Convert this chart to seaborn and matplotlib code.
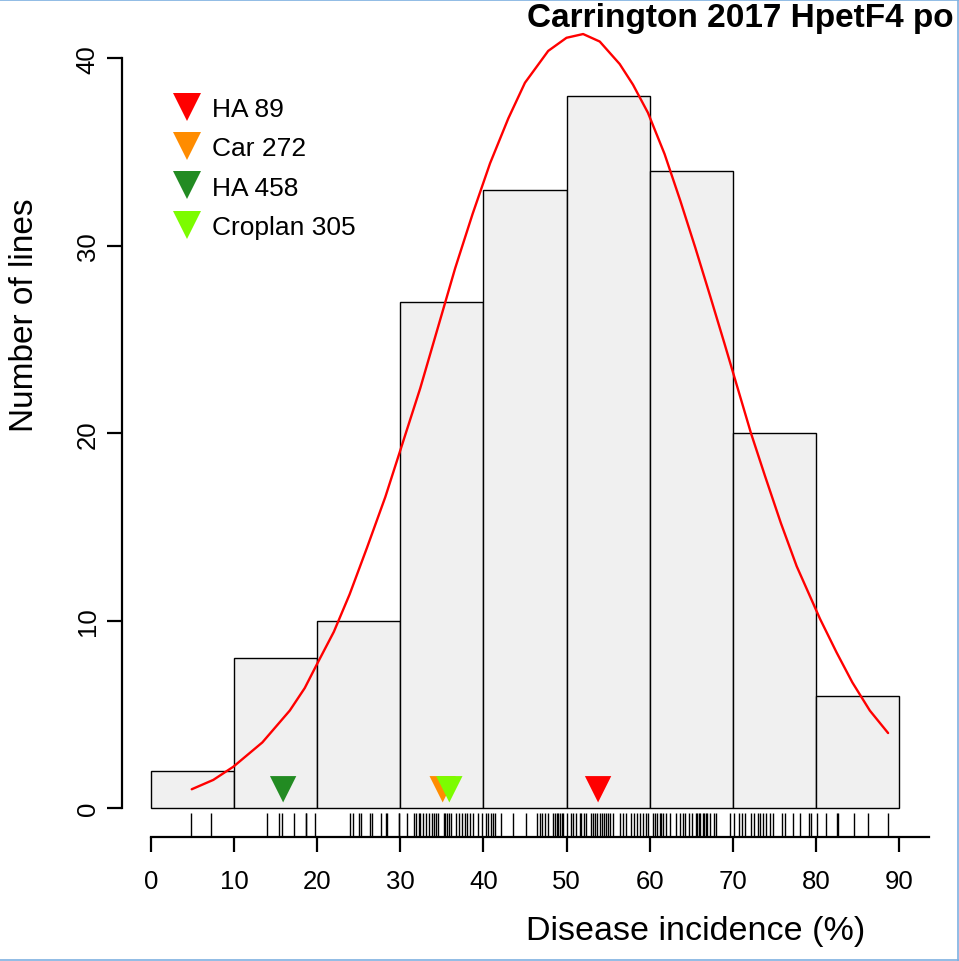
import matplotlib
matplotlib.use("Agg")
import matplotlib.pyplot as plt
from matplotlib.lines import Line2D
import seaborn as sns
import numpy as np
import pandas as pd

# ---------------- data ----------------
bin_edges = [0, 10, 20, 30, 40, 50, 60, 70, 80, 90]
bin_counts = [2, 8, 10, 27, 33, 38, 34, 20, 6]

curve_x = [4.9, 7.5, 9.9, 13.4, 16.7, 18.5, 20.0, 22.0, 23.9, 26.0, 28.2, 30.3, 32.4,
           34.5, 36.6, 38.7, 40.8, 43.0, 45.0, 47.8, 50.0, 52.0, 54.0, 56.4, 58.0,
           59.8, 61.8, 63.7, 65.5, 67.3, 69.0, 70.6, 72.2, 73.9, 75.8, 77.7, 80.5,
           82.5, 84.4, 86.5, 88.7]
curve_y = [1.0, 1.5, 2.2, 3.5, 5.2, 6.4, 7.7, 9.4, 11.4, 13.9, 16.6, 19.5, 22.4,
           25.6, 28.8, 31.7, 34.4, 36.8, 38.7, 40.4, 41.1, 41.3, 40.9, 39.7, 38.6,
           37.1, 34.9, 32.4, 29.9, 27.3, 24.8, 22.4, 20.0, 17.7, 15.2, 12.9, 10.1,
           8.3, 6.7, 5.2, 4.0]

rug_x = [4.8, 7.2,
         13.9, 15.4, 15.8, 17.2, 18.6, 18.7, 19.7,
         24.0, 24.3, 25.0, 25.3, 26.4, 26.6, 27.7, 28.3, 28.4, 29.8, 29.9,
         30.8, 31.7, 31.9, 32.2, 32.4, 32.7, 33.1, 33.5, 33.8, 34.1, 34.3, 34.5,
         35.2, 35.4, 35.6, 35.9, 36.1, 36.7, 37.1, 37.4, 37.8, 38.0, 38.4, 38.8, 39.3,
         39.8, 40.3, 40.6, 40.9, 41.1, 41.4, 42.1, 43.6, 45.1, 46.5, 46.8, 47.1, 47.4,
         47.8, 48.4, 48.6, 48.8, 49.0, 49.2, 49.4, 49.6, 50.1, 50.5, 50.8, 51.2, 51.6,
         51.8, 52.1, 52.4, 53.0, 53.2, 53.4, 53.7, 54.0, 54.3, 54.5, 54.7, 55.0, 55.2,
         55.6, 56.4, 56.8, 57.2,
         57.8, 58.1, 58.5, 58.8, 59.2, 59.6, 59.8, 60.4, 60.6, 60.9, 61.2, 61.4, 61.6,
         62.0, 62.4, 63.2, 63.6, 64.0, 64.3, 64.8, 65.1, 65.6, 65.7, 66.0, 66.1, 66.4,
         66.5, 66.8, 66.9, 67.3, 67.7, 68.0, 69.7, 70.2, 70.7, 71.1, 71.5, 72.2, 72.6,
         73.0, 73.3, 73.6, 74.0, 74.5, 74.9,
         75.9, 76.3, 77.2, 78.1, 79.2, 79.4, 80.2, 81.2, 82.6, 82.7, 84.6, 86.3, 88.7]

check_names = ["HA 89", "Car 272", "HA 458", "Croplan 305"]
check_x = [53.8, 35.1, 15.9, 35.9]
check_y = [1, 1, 1, 1]
check_colors = ["#FF0000", "#FF8C00", "#228B22", "#7CFC00"]

x_ticks = [0, 10, 20, 30, 40, 50, 60, 70, 80, 90]
y_ticks = [0, 10, 20, 30, 40]

# ---------------- style ----------------
sns.set_style("ticks")
plt.rcParams["font.family"] = ["Liberation Sans", "DejaVu Sans"]
plt.rcParams["text.color"] = "black"
plt.rcParams["axes.labelcolor"] = "black"
plt.rcParams["xtick.color"] = "black"
plt.rcParams["ytick.color"] = "black"

W, H = 959, 962
fig = plt.figure(figsize=(W / 100, H / 100), dpi=100)

# axes geometry (pixels)
ax_left_px, ax_right_px = 122, 959
ax_bottom_px, ax_top_px = 838, 0
ax = fig.add_axes([ax_left_px / W, (H - ax_bottom_px) / H,
                   (ax_right_px - ax_left_px) / W, (ax_bottom_px - ax_top_px) / H])

px_per_x = 8.31
px_per_y = 18.74
x0_px, y0_px = 151, 809
ax.set_xlim((ax_left_px - x0_px) / px_per_x, (ax_right_px - x0_px) / px_per_x)
ax.set_ylim(-(ax_bottom_px - y0_px) / px_per_y, (y0_px - ax_top_px) / px_per_y)

# histogram
mids = [(bin_edges[i] + bin_edges[i + 1]) / 2 for i in range(len(bin_counts))]
sns.histplot(x=mids, weights=bin_counts, bins=bin_edges, ax=ax,
             color="#F0F0F0", edgecolor="black", linewidth=1.0, alpha=1.0, zorder=1)

# fitted curve
sns.lineplot(x=curve_x, y=curve_y, ax=ax, color="red", linewidth=1.7,
             sort=False, estimator=None, zorder=3)

# rug
sns.rugplot(x=rug_x, ax=ax, height=0.029, color="black", linewidth=1.0, expand_margins=False)

# check markers
df = pd.DataFrame({"x": check_x, "y": check_y, "name": check_names})
sns.scatterplot(data=df, x="x", y="y", hue="name", hue_order=check_names,
                palette=dict(zip(check_names, check_colors)), marker="v", s=360,
                linewidth=0, ax=ax, zorder=4, legend=False)

handles = [Line2D([0], [0], marker="v", linestyle="none", markersize=20,
                  markerfacecolor=c, markeredgewidth=0) for c in check_colors]
ax.legend(handles, check_names, loc="upper left",
          bbox_to_anchor=(175 / W, 1 - 98 / H), bbox_transform=fig.transFigure,
          frameon=False, fontsize=19, handlelength=0.9, handletextpad=0.5,
          labelspacing=0.58, borderpad=0, borderaxespad=0)

# axes styling
for s in ["top", "right"]:
    ax.spines[s].set_visible(False)
ax.spines["left"].set_bounds(0, 40)
ax.spines["bottom"].set_bounds(0, 93.6)
ax.spines["left"].set_linewidth(1.6)
ax.spines["bottom"].set_linewidth(1.6)
ax.spines["left"].set_color("black")
ax.spines["bottom"].set_color("black")

ax.set_xticks(x_ticks)
ax.set_yticks(y_ticks)
ax.set_xticklabels([str(t) for t in x_ticks])
ax.set_yticklabels([str(t) for t in y_ticks], rotation=90, va="center")
ax.tick_params(axis="both", direction="out", length=11, width=1.6, color="black",
               labelsize=18.5, labelcolor="black", bottom=True, left=True)
ax.tick_params(axis="x", pad=12)
ax.tick_params(axis="y", pad=5)
ax.set_xlabel("Disease incidence (%)", fontsize=24.5)
ax.set_ylabel("Number of lines", fontsize=24)
ax.xaxis.set_label_coords((696 - ax_left_px) / (ax_right_px - ax_left_px),
                          (ax_bottom_px - 916) / (ax_bottom_px - ax_top_px))
ax.yaxis.set_label_coords((40 - ax_left_px) / (ax_right_px - ax_left_px),
                          (ax_bottom_px - 315) / (ax_bottom_px - ax_top_px))

# title (runs to the right edge, as in the reference)
fig.text(527 / W, 1 - 18 / H, "Carrington 2017 HpetF4 po", fontsize=24,
         fontweight="bold", ha="left", va="center")

# thin blue frame lines at the image borders
for (xs, ys) in [([0, 1], [0.999, 0.999]), ([0.999, 0.999], [0, 1]), ([0, 1], [0.001, 0.001])]:
    fig.add_artist(Line2D(xs, ys, transform=fig.transFigure, color="#7EB0E0", linewidth=1.2))

fig.savefig("out.png", dpi=100)
